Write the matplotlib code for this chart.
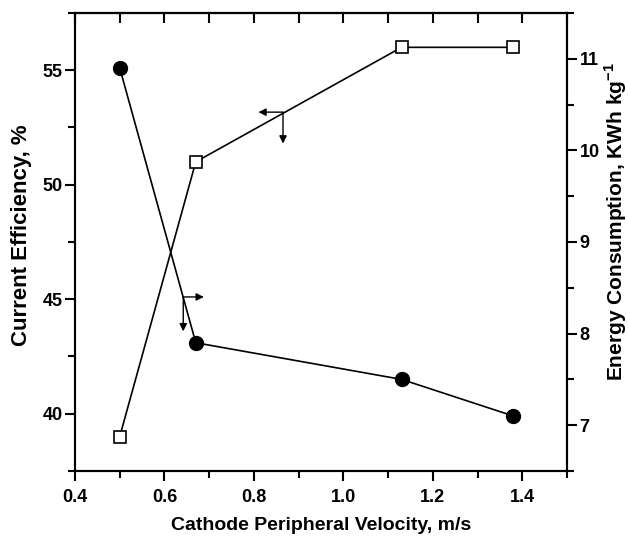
import numpy as np
import matplotlib.pyplot as plt

plt.rcParams['font.family'] = ['Liberation Sans', 'DejaVu Sans']
plt.rcParams['font.weight'] = 'bold'
plt.rcParams['mathtext.fontset'] = 'custom'
plt.rcParams['mathtext.rm'] = 'Liberation Sans:bold'
plt.rcParams['mathtext.bf'] = 'Liberation Sans:bold'

# data
velocity = [0.50, 0.67, 1.13, 1.38]
current_eff = [39.0, 51.0, 56.0, 56.0]
energy = [10.9, 7.9, 7.5, 7.1]

x_ticks = [0.4, 0.6, 0.8, 1.0, 1.2, 1.4]
ce_ticks = [40, 45, 50, 55]
en_ticks = [7, 8, 9, 10, 11]

fig = plt.figure(figsize=(6.28, 5.39), dpi=100)
axs = fig.add_axes([0.1194, 0.1262, 0.7836, 0.8497])
ax2 = axs.twinx()

axs.plot(velocity, current_eff, "s-", color="k", lw=1.2, ms=9,
         mfc="white", mec="k", mew=1.2, zorder=3)
ax2.plot(velocity, energy, "o-", color="k", lw=1.2, ms=10,
         mfc="k", mec="k", zorder=3)

axs.set_xlim(0.4, 1.5)
axs.set_ylim(37.5, 57.5)
ax2.set_ylim(6.5, 11.5)

axs.set_xticks(x_ticks)
axs.set_xticks(np.arange(0.5, 1.51, 0.2), minor=True)
axs.set_yticks(ce_ticks)
axs.set_yticks([37.5, 42.5, 47.5, 52.5, 57.5], minor=True)
ax2.set_yticks(en_ticks)
ax2.set_yticks([6.5, 7.5, 8.5, 9.5, 10.5, 11.5], minor=True)

for a in (axs, ax2):
    for s in a.spines.values():
        s.set_linewidth(1.5)

axs.tick_params(axis='x', which='both', direction='out', width=1.5, length=7,
                labelsize=13, pad=6)
axs.tick_params(axis='y', which='both', direction='out', width=1.5, length=7,
                labelsize=13, pad=2)
axs.tick_params(axis='y', which='minor', length=5)
axs.tick_params(axis='x', which='minor', length=5)
ax2.tick_params(axis='y', which='both', direction='out', width=1.5, length=7,
                labelsize=13, pad=2)
ax2.tick_params(axis='y', which='minor', length=5)

# top ticks inward
top = axs.secondary_xaxis('top')
top.set_xticks(np.arange(0.4, 1.51, 0.1))
top.tick_params(direction='in', width=1.5, length=7, labeltop=False)
top.spines['top'].set_linewidth(1.5)

axs.set_xlabel("Cathode Peripheral Velocity, m/s", fontsize=14, fontweight='bold')
axs.xaxis.set_label_coords(0.5, -0.1)
axs.set_ylabel("Current Efficiency, %", fontsize=16, fontweight='bold')
axs.yaxis.set_label_coords(-0.087, 0.515)
ax2.set_ylabel(r"Energy Consumption, KWh kg$^{-1}$", fontsize=15, fontweight='bold')
ax2.yaxis.set_label_coords(1.072, 0.544)

# arrows pointing to the axes
arr = dict(arrowstyle="-|>", color="k", lw=1.0, mutation_scale=11, shrinkA=0, shrinkB=0)
axs.annotate("", xy=(0.81, 53.17), xytext=(0.865, 53.17), arrowprops=arr)
axs.annotate("", xy=(0.865, 51.8), xytext=(0.865, 53.17), arrowprops=arr)
axs.annotate("", xy=(0.688, 45.1), xytext=(0.642, 45.1), arrowprops=arr)
axs.annotate("", xy=(0.642, 43.6), xytext=(0.642, 45.1), arrowprops=arr)

plt.savefig("out.png", dpi=100)
